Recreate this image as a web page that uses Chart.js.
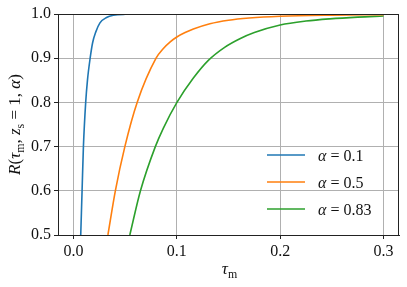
<!DOCTYPE html>
<html>
<head>
<meta charset="utf-8">
<script src="https://cdn.jsdelivr.net/npm/chart.js@4"></script>
<style>
  html, body { margin: 0; padding: 0; background: #fff; }
  #wrap { width: 407px; height: 287px; }
</style>
</head>
<body>
<div id="wrap"><canvas id="chart" width="407" height="287"></canvas></div>
<script>
// values
const tauBlue = [0.0070, 0.0083, 0.0096, 0.0118, 0.0135, 0.0161, 0.0185, 0.0215, 0.0256, 0.032, 0.0385, 0.05, 0.07, 0.1, 0.2, 0.3];
const rBlue   = [0.5, 0.6, 0.7, 0.8, 0.85, 0.9, 0.935, 0.959, 0.980, 0.992, 0.997, 0.9993, 0.99995, 1.0, 1.0, 1.0];

const tauOrange = [0.0333, 0.0405, 0.0497, 0.0616, 0.0799, 0.087, 0.0936, 0.1, 0.108, 0.116, 0.132, 0.15, 0.17, 0.2, 0.25, 0.3];
const rOrange   = [0.5, 0.6, 0.7, 0.8, 0.9, 0.922, 0.937, 0.948, 0.958, 0.966, 0.978, 0.986, 0.991, 0.995, 0.9975, 0.9985];

const tauGreen = [0.0545, 0.0648, 0.0792, 0.087, 0.1001, 0.116, 0.1305, 0.1466, 0.161, 0.175, 0.2, 0.225, 0.248, 0.275, 0.3];
const rGreen   = [0.5, 0.6, 0.7, 0.742, 0.8, 0.855, 0.895, 0.925, 0.944, 0.958, 0.975, 0.984, 0.989, 0.993, 0.9955];

const seriesLabels = ['0.1', '0.5', '0.83'];
const xTicks = [0.0, 0.1, 0.2, 0.3];
const yTicks = [0.5, 0.6, 0.7, 0.8, 0.9, 1.0];

const SERIF = '"Liberation Serif", "DejaVu Serif", serif';

function pts(xs, ys) {
  return xs.map((x, i) => ({ x: x, y: ys[i] }));
}

// draws a run of text pieces, some italic, some as subscripts
function drawRuns(ctx, runs, x, y, size, align) {
  const parts = runs.map(r => {
    const fs = r.sub ? size * 0.7 : size;
    const font = (r.it ? 'italic ' : '') + fs + 'px ' + SERIF;
    ctx.font = font;
    return { t: r.t, font: font, w: ctx.measureText(r.t).width, dy: r.sub ? size * 0.22 : 0 };
  });
  const total = parts.reduce((a, p) => a + p.w, 0);
  let cx = align === 'center' ? x - total / 2 : x;
  ctx.textAlign = 'left';
  ctx.textBaseline = 'alphabetic';
  parts.forEach(p => {
    ctx.font = p.font;
    ctx.fillText(p.t, cx, y + p.dy);
    cx += p.w;
  });
}

const extras = {
  id: 'extras',
  afterDraw(chart) {
    const ctx = chart.ctx;
    const a = chart.chartArea;
    ctx.save();
    // frame
    ctx.strokeStyle = '#222';
    ctx.lineWidth = 1;
    ctx.strokeRect(a.left + 0.5, a.top + 0.5, a.right - a.left - 1, a.bottom - a.top);

    ctx.fillStyle = '#111';
    // x title
    drawRuns(ctx, [{ t: 'τ', it: true }, { t: 'm', sub: true }], (a.left + a.right) / 2 + 1, 274, 17, 'center');
    // y title
    ctx.save();
    ctx.translate(20, (a.top + a.bottom) / 2);
    ctx.rotate(-Math.PI / 2);
    drawRuns(ctx, [
      { t: 'R', it: true }, { t: '(' }, { t: 'τ', it: true }, { t: 'm', sub: true },
      { t: ', ' }, { t: 'z', it: true }, { t: 's', sub: true }, { t: ' = 1, ' },
      { t: 'α', it: true }, { t: ')' }
    ], 0, 0, 17, 'center');
    ctx.restore();

    // legend, no frame
    const rowY = [155, 182, 209];
    chart.data.datasets.forEach((ds, i) => {
      ctx.strokeStyle = ds.borderColor;
      ctx.lineWidth = 1.6;
      ctx.beginPath();
      ctx.moveTo(267, rowY[i]);
      ctx.lineTo(305, rowY[i]);
      ctx.stroke();
      ctx.fillStyle = '#111';
      drawRuns(ctx, [{ t: 'α', it: true }, { t: ' = ' + seriesLabels[i] }], 318, rowY[i] + 5.5, 16, 'left');
    });
    ctx.restore();
  }
};

const lineStyle = { borderWidth: 1.6, pointRadius: 0, fill: false, cubicInterpolationMode: 'monotone' };

new Chart(document.getElementById('chart'), {
  type: 'line',
  data: {
    datasets: [
      Object.assign({ label: 'α = ' + seriesLabels[0], data: pts(tauBlue, rBlue), borderColor: '#1f77b4' }, lineStyle),
      Object.assign({ label: 'α = ' + seriesLabels[1], data: pts(tauOrange, rOrange), borderColor: '#ff7f0e' }, lineStyle),
      Object.assign({ label: 'α = ' + seriesLabels[2], data: pts(tauGreen, rGreen), borderColor: '#2ca02c' }, lineStyle)
    ]
  },
  options: {
    responsive: false,
    animation: false,
    layout: { padding: { left: 0, right: 8, top: 14, bottom: 0 } },
    plugins: { legend: { display: false }, tooltip: { enabled: false } },
    scales: {
      x: {
        type: 'linear',
        min: -0.015,
        max: 0.315,
        afterBuildTicks: s => { s.ticks = xTicks.map(v => ({ value: v })); },
        afterFit: s => { s.height = 52; },
        grid: { color: '#b0b0b0', lineWidth: 1, tickLength: 4, tickColor: '#222' },
        border: { color: '#222', width: 1 },
        ticks: { font: { family: SERIF, size: 16 }, color: '#111', padding: 3, maxRotation: 0,
                 callback: v => v.toFixed(1) }
      },
      y: {
        min: 0.5,
        max: 1.0,
        afterBuildTicks: s => { s.ticks = yTicks.map(v => ({ value: v })); },
        afterFit: s => { s.width = 58; },
        grid: { color: '#b0b0b0', lineWidth: 1, tickLength: 4, tickColor: '#222' },
        border: { color: '#222', width: 1 },
        ticks: { font: { family: SERIF, size: 16 }, color: '#111', padding: 3,
                 callback: v => v.toFixed(1) }
      }
    }
  },
  plugins: [extras]
});
</script>
</body>
</html>
